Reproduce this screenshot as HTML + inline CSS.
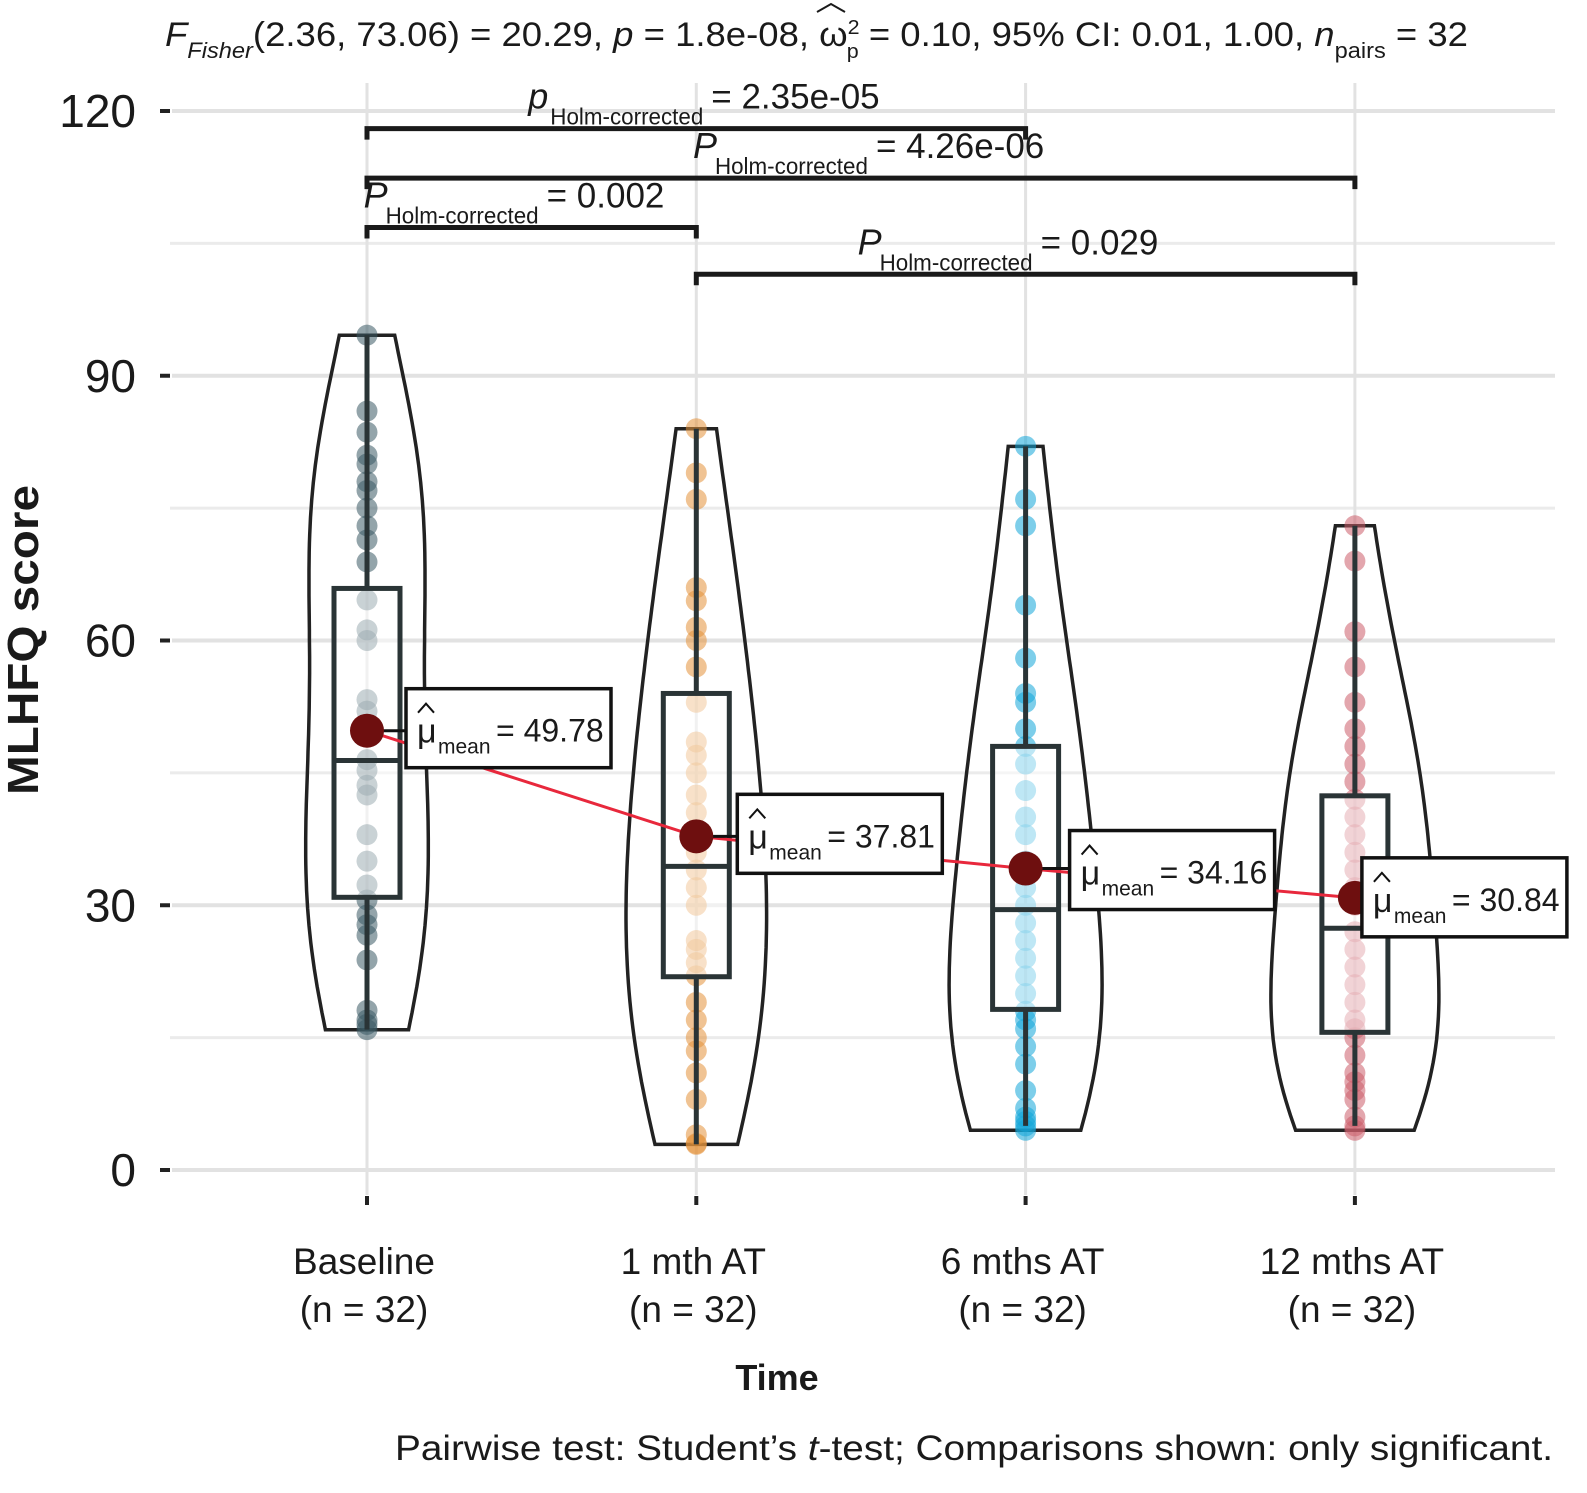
<!DOCTYPE html>
<html><head><meta charset="utf-8"><style>
html,body{margin:0;padding:0;background:#fff}
svg text{font-family:"Liberation Sans",sans-serif;fill:#1a1a1a}
</style></head><body>
<svg id="chart" width="1587" height="1488" viewBox="0 0 1587 1488" xmlns="http://www.w3.org/2000/svg">
<g id="grid"></g>
<g id="violins"></g>
<g id="points"></g>
<g id="boxes"></g>
<g id="means"></g>
<g id="axes"></g>
<g id="brackets"></g>

<text x="165" y="46" font-size="34" textLength="1303" lengthAdjust="spacingAndGlyphs"><tspan font-style="italic">F</tspan><tspan font-size="22" font-style="italic" dy="12">Fisher</tspan><tspan dy="-12">(2.36, 73.06) = 20.29, </tspan><tspan font-style="italic">p</tspan><tspan> = 1.8e-08, ω</tspan><tspan font-size="20" dy="-12">2</tspan><tspan font-size="20" dx="-12" dy="24">p</tspan><tspan dy="-12"> = 0.10, 95% CI: 0.01, 1.00, </tspan><tspan font-style="italic">n</tspan><tspan font-size="22" dy="12">pairs</tspan><tspan dy="-12"> = 32</tspan></text>
<path d="M817 12 L831 4 L845 12" fill="none" stroke="#1a1a1a" stroke-width="2"/>

<text transform="translate(38,640) rotate(-90)" text-anchor="middle" font-size="44" font-weight="bold" textLength="310" lengthAdjust="spacingAndGlyphs">MLHFQ score</text>
<text x="777" y="1390" text-anchor="middle" font-size="36" font-weight="bold">Time</text>
<text x="1553" y="1460" text-anchor="end" font-size="35" textLength="1158" lengthAdjust="spacingAndGlyphs">Pairwise test: Student’s <tspan font-style="italic">t</tspan>-test; Comparisons shown: only significant.</text>

<script>
const categories = ["Baseline","1 mth AT","6 mths AT","12 mths AT"];
const nLabels = ["(n = 32)","(n = 32)","(n = 32)","(n = 32)"];
const colors = ["#3a5964","#e4923a","#12a6d8","#cc5c6a"];
const valsBaseline = [94.6,86,83.6,81,80,78,77,75,73,71.4,68.9,64.6,61.2,60,53.3,52,46.5,45.3,43.6,42.5,38,35,32.3,30.6,28.9,27.8,26.6,23.8,18.1,17,15.9,16.5];
const vals1mth = [84,79,76,66,64.5,61.5,60,57,53,48.5,47,45,42.5,40.5,37.8,36,34,32,30,26,25,23.5,22,19,17,15,13.5,11,8,4,3,2.9];
const vals6mth = [82,76,73,64,58,54,53,50,48,46,43,40,38,35,32,30,28,26,24,22,20,18,17,16,14,12,9,7,6,5.5,5,4.5];
const vals12mth = [73,69,61,57,53,50,48,46,44,42,40,38,36,34,32,30,27,25,23,21,19,17,16,15,13,11,10,9,8,6,5,4.5];
const seriesValues = [valsBaseline, vals1mth, vals6mth, vals12mth];
const boxQ1 = [30.9,21.9,18.2,15.6];
const boxMedian = [46.4,34.4,29.5,27.4];
const boxQ3 = [65.9,54,48,42.4];
const whiskerLow = [15.9,2.9,5,5];
const whiskerHigh = [94.6,84,82,73];
const means = [49.78,37.81,34.16,30.84];
const meanLabels = ["49.78","37.81","34.16","30.84"];
const yTicks = [0,30,60,90,120];
const yMinor = [15,45,75,105];
const brackets = [[0,2,"p","2.35e-05",118],[0,3,"P","4.26e-06",112.4],[0,1,"P","0.002",106.8],[1,3,"P","0.029",101.5]];

const NS = "http://www.w3.org/2000/svg";
const y = v => 1170 - v * (1059/120);
const x = i => 367 + i * 329.3;
function mk(tag, attrs, parent){const e=document.createElementNS(NS,tag);for(const k in attrs)e.setAttribute(k,attrs[k]);parent.appendChild(e);return e;}
const G = id => document.getElementById(id);

yMinor.forEach(v=>{const l=mk("line",{x1:170,x2:1555,y1:y(v),y2:y(v),stroke:"#ebebeb","stroke-width":3},G("grid"));

});
yTicks.forEach(v=>{const l=mk("line",{x1:172,x2:1555,y1:y(v),y2:y(v),stroke:"#e2e2e2","stroke-width":4},G("grid"));

});
categories.forEach((c,i)=>{const l=mk("line",{x1:x(i),x2:x(i),y1:83,y2:1195,stroke:"#e2e2e2","stroke-width":3},G("grid"));

});

function sd(a){const m=a.reduce((s,v)=>s+v,0)/a.length;return Math.sqrt(a.reduce((s,v)=>s+(v-m)*(v-m),0)/(a.length-1));}
function q(a,p){const s=[...a].sort((a,b)=>a-b);const h=(s.length-1)*p;const lo=Math.floor(h);return s[lo]+(s[Math.ceil(h)]-s[lo])*(h-lo);}
const dens = seriesValues.map(a=>{
  const bw=1.35*0.9*Math.min(sd(a),(q(a,.75)-q(a,.25))/1.34)*Math.pow(a.length,-0.2);
  const lo=Math.min(...a),hi=Math.max(...a),pts=[];
  for(let k=0;k<=80;k++){const v=lo+(hi-lo)*k/80;let d=0;a.forEach(t=>{const z=(v-t)/bw;d+=Math.exp(-z*z/2);});d/=a.length*bw*Math.sqrt(2*Math.PI);pts.push([v,d]);}
  return pts;});
const dmax = Math.max(...dens.map(p=>Math.max(...p.map(d=>d[1]))));
dens.forEach((pts,i)=>{
  const K=84/dmax;
  let d="M"+pts.map(p=>(x(i)+p[1]*K).toFixed(1)+" "+y(p[0]).toFixed(1)).join(" L");
  d+=" L"+pts.slice().reverse().map(p=>(x(i)-p[1]*K).toFixed(1)+" "+y(p[0]).toFixed(1)).join(" L")+"Z";
  const v=mk("path",{d:d,fill:"none",stroke:"#222","stroke-width":3.5},G("violins"));
  
  
});

seriesValues.forEach((a,i)=>a.forEach(v=>{
  const c=mk("circle",{cx:x(i),cy:y(v),r:10.5,fill:colors[i],"fill-opacity":0.55},G("points"));
  
  
}));

categories.forEach((c,i)=>{
  const g=mk("g",{},G("boxes"));
  
  
  mk("line",{x1:x(i),x2:x(i),y1:y(whiskerHigh[i]),y2:y(boxQ3[i]),stroke:"#2a3436","stroke-width":5},g);
  mk("line",{x1:x(i),x2:x(i),y1:y(boxQ1[i]),y2:y(whiskerLow[i]),stroke:"#2a3436","stroke-width":5},g);
  mk("rect",{x:x(i)-33,y:y(boxQ3[i]),width:66,height:y(boxQ1[i])-y(boxQ3[i]),fill:"#fff","fill-opacity":0.5,stroke:"#2a3436","stroke-width":5},g);
  mk("line",{x1:x(i)-33,x2:x(i)+33,y1:y(boxMedian[i]),y2:y(boxMedian[i]),stroke:"#2a3436","stroke-width":5},g);
});

const mp=mk("polyline",{points:means.map((m,i)=>x(i)+","+y(m)).join(" "),fill:"none",stroke:"#e8283c","stroke-width":3},G("means"));


const labOff=[[39,-42],[41,-42],[44,-38],[7,-40]];
means.forEach((m,i)=>{
  const lx=x(i)+labOff[i][0], ly=y(m)+labOff[i][1];
  const ln=mk("line",{x1:x(i),x2:lx,y1:y(m),y2:y(m),stroke:"#111","stroke-width":3},G("means"));
  
  
  const dot=mk("circle",{cx:x(i),cy:y(m),r:17,fill:"#6e0f0f"},G("means"));
  
  
  const g=mk("g",{},G("means"));
  
  
  mk("rect",{x:lx,y:ly,width:205,height:79,fill:"#fff",stroke:"#111","stroke-width":3.5},g);
  const t1=mk("text",{x:lx+11,y:ly+54,"font-size":34},g);t1.textContent="μ";
  mk("path",{d:`M${lx+12} ${ly+24} L${lx+20} ${ly+15} L${lx+28} ${ly+24}`,fill:"none",stroke:"#111","stroke-width":2},g);
  const t2=mk("text",{x:lx+32,y:ly+65,"font-size":21},g);t2.textContent="mean";
  const t3=mk("text",{x:lx+90,y:ly+53,"font-size":32},g);t3.textContent="= "+meanLabels[i];
});

yTicks.forEach(v=>{
  const t=mk("line",{x1:160,x2:170,y1:y(v),y2:y(v),stroke:"#222","stroke-width":4},G("axes"));
  
  
  const l=mk("text",{x:136,y:y(v)+16,"text-anchor":"end","font-size":46},G("axes"));
  l.textContent=v;
  
  
});
categories.forEach((c,i)=>{
  const t=mk("line",{x1:x(i),x2:x(i),y1:1196,y2:1205,stroke:"#222","stroke-width":4},G("axes"));
  
  
  const l=mk("text",{x:x(i)-3,y:1274,"text-anchor":"middle","font-size":37},G("axes"));
  l.textContent=c;
  
  
  const n=mk("text",{x:x(i)-3,y:1322,"text-anchor":"middle","font-size":37},G("axes"));
  n.textContent=nLabels[i];
  
  
});

brackets.forEach(b=>{
  const g=mk("g",{},G("brackets"));
  
  
  const x1=x(b[0]),x2=x(b[1]),yy=y(b[4]);
  mk("path",{d:`M${x1} ${yy+11} L${x1} ${yy} L${x2} ${yy} L${x2} ${yy+11}`,fill:"none",stroke:"#1a1a1a","stroke-width":5},g);
  const cx=(x1+x2)/2, ty=yy-20, sx=cx-168;
  const tp=mk("text",{x:sx,y:ty,"font-size":36,"font-style":"italic"},g);tp.textContent=b[2];
  const ts=mk("text",{x:sx+22,y:ty+16,"font-size":23,textLength:153,lengthAdjust:"spacingAndGlyphs"},g);ts.textContent="Holm-corrected";
  const tv=mk("text",{x:sx+183,y:ty,"font-size":35},g);tv.textContent="= "+b[3];
});
</script>
</svg>
</body></html>
